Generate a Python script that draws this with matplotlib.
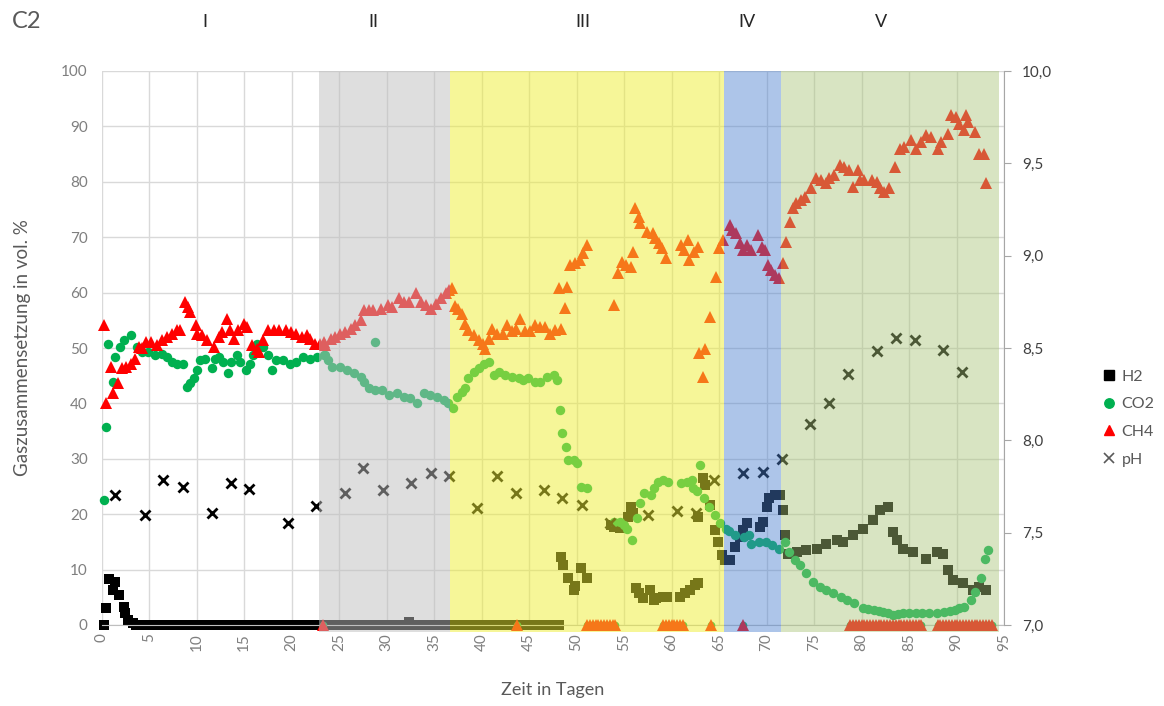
import numpy as np
import matplotlib
matplotlib.use('Agg')
import matplotlib.pyplot as plt
from matplotlib.lines import Line2D

plt.rcParams['font.family'] = ['Lato', 'DejaVu Sans']

# H2 (vol. %)
h2_days = [0.2, 0.5, 0.8, 1.2, 1.4, 1.85, 2.3, 2.45, 2.8, 3.3,
           3.6, 4.3, 5.0, 5.8, 6.5, 7.3, 8.0, 8.8, 9.5, 10.3, 11.0, 11.8, 12.5, 13.3,
           14.0, 14.8, 15.5, 16.3, 17.0, 17.8, 18.5, 19.3, 20.0, 20.8, 21.5, 22.3,
           23.0, 23.8, 24.5, 25.3, 26.0, 26.8, 27.5, 28.3, 29.0, 29.8, 30.5, 31.3,
           32.0, 32.4, 32.8, 33.5, 34.3, 35.0, 35.8, 36.5, 37.3, 38.0, 38.8, 39.5,
           40.3, 41.0, 41.8, 42.5, 43.3, 44.0, 44.8, 45.5, 46.3, 47.0, 47.8, 48.2,
           48.4, 48.6, 49.1, 49.7, 49.8, 50.5, 51.1,
           53.6, 53.9, 54.6, 55.4, 55.7, 55.9,
           56.3, 56.6, 57.0, 57.7, 58.1, 58.4, 59.1, 59.5,
           60.9, 61.4, 61.9, 62.5, 62.8,
           62.8, 63.3, 63.5, 64.0, 64.6, 64.9, 65.3, 65.6,
           66.1, 66.7, 67.2, 67.5, 67.9, 69.3, 69.6, 70.0, 70.3, 70.9, 71.4,
           71.7, 71.9, 72.3, 73.2, 74.2, 75.3, 76.3, 77.4, 78.1, 79.1, 80.2, 81.2,
           81.9, 82.8, 83.3, 83.7, 84.4, 85.4, 86.8, 87.9, 88.6, 89.1, 89.6, 90.7,
           91.7, 92.4, 93.1]
h2_vals = [0, 3.0, 8.3, 6.3, 7.8, 5.4, 3.3, 2.1, 0.9, 0.3,
           0, 0, 0, 0, 0, 0, 0, 0, 0, 0, 0, 0, 0, 0,
           0, 0, 0, 0, 0, 0, 0, 0, 0, 0, 0, 0,
           0, 0, 0, 0, 0, 0, 0, 0, 0, 0, 0, 0,
           0, 0.5, 0, 0, 0, 0, 0, 0, 0, 0, 0, 0,
           0, 0, 0, 0, 0, 0, 0, 0, 0, 0, 0, 0,
           12.3, 10.8, 8.4, 6.3, 7.0, 10.2, 8.4,
           18.0, 17.7, 17.5, 19.5, 21.3, 20.2,
           6.7, 5.8, 4.9, 6.3, 4.5, 4.9, 5.1, 5.1,
           5.1, 5.8, 6.3, 7.2, 7.6,
           19.5, 26.5, 25.3, 21.7, 17.1, 15.0, 12.6, 11.7,
           11.7, 14.1, 15.9, 17.1, 18.4, 17.7, 18.6, 21.3, 22.9, 23.5, 23.5,
           20.8, 16.2, 12.9, 13.2, 13.5, 13.8, 14.7, 15.3, 15.0, 16.2, 17.4, 19.0,
           20.8, 21.3, 16.8, 15.3, 13.8, 13.2, 12.0, 13.2, 12.9, 9.9, 8.1, 7.5,
           6.3, 6.9, 6.3]

# CO2 (vol. %)
co2_days = [0.2, 0.5, 0.7, 1.2, 1.4, 1.9, 2.4, 3.1, 3.7, 4.2, 4.9, 5.6, 6.3, 6.9,
            7.4, 7.9, 8.6, 9.0, 9.3, 9.7, 10.0, 10.4, 10.9, 11.6, 11.9, 12.4, 12.8,
            13.3, 13.6, 14.2, 14.6, 15.2, 15.6, 15.9, 16.3, 17.0, 17.5, 17.9, 18.4,
            19.1, 19.8, 20.5, 21.2, 21.9, 22.7, 23.4,
            23.5, 23.8, 24.3, 25.1, 25.8, 26.6, 27.3, 27.6, 28.1, 28.8, 28.8, 29.5,
            30.2, 31.1, 31.8, 32.5, 33.2, 33.9, 34.6, 35.3, 36.0, 36.5,
            37.0, 37.4, 37.9, 38.3, 38.6, 39.2, 39.7, 40.2, 40.8, 41.3, 41.8, 42.5,
            43.2, 43.9, 44.4, 44.9, 45.6, 46.1, 46.9, 47.6, 47.9, 48.3, 48.5, 48.9,
            49.1, 49.7, 50.0, 50.5, 51.1,
            53.9, 54.6, 55.0, 55.3, 55.8, 56.4, 56.7, 57.1, 57.8, 58.1, 58.6, 59.1,
            59.6, 61.0, 61.6, 62.1, 63.0, 62.3, 62.7, 63.4, 63.9, 64.6, 65.1, 65.7,
            66.0, 66.7, 67.6, 68.1, 68.4, 69.2, 69.9, 70.6, 71.3, 71.9, 72.4, 73.0,
            73.5, 74.2, 74.9, 75.6, 76.3, 77.0, 77.8, 78.5, 79.2, 80.2, 80.7, 81.3,
            81.8, 82.3, 82.8, 83.3, 83.8, 84.4, 85.0, 85.7, 86.4, 87.1, 87.9, 88.7,
            89.3, 89.8, 90.3, 90.8, 91.5, 91.9, 92.6, 93.0, 93.3]
co2_vals = [22.6, 35.8, 50.8, 43.9, 48.4, 50.2, 51.4, 52.3, 50.2, 49.3, 49.3, 48.7,
            49.0, 48.4, 47.5, 47.2, 47.2, 43.0, 43.6, 44.5, 46.0, 47.8, 48.1, 46.3,
            48.1, 48.4, 47.5, 45.4, 47.5, 48.7, 47.5, 46.0, 47.2, 48.7, 50.8, 50.2,
            48.7, 46.0, 47.8, 47.8, 47.2, 47.5, 48.4, 48.1, 48.4, 48.7,
            48.7, 47.8, 46.6, 46.6, 46.0, 45.4, 44.8, 43.9, 42.7, 51.1, 42.4, 42.4,
            41.5, 41.8, 41.2, 40.9, 40.0, 41.8, 41.5, 41.2, 40.6, 40.0,
            39.1, 41.2, 42.1, 42.7, 44.5, 45.7, 46.3, 47.2, 47.5, 45.1, 45.7, 45.1,
            44.8, 44.5, 44.2, 44.5, 43.9, 43.9, 44.8, 45.1, 44.2, 38.8, 34.6, 32.1,
            29.8, 29.8, 29.2, 25.0, 24.7,
            18.6, 18.6, 18.0, 17.4, 15.3, 19.3, 22.0, 23.8, 23.5, 24.7, 25.9, 26.2,
            25.9, 25.6, 25.9, 26.2, 28.9, 24.7, 24.1, 22.9, 21.3, 19.9, 18.4, 17.4,
            17.0, 16.2, 15.9, 16.2, 14.7, 15.0, 15.0, 14.4, 13.8, 15.0, 13.2, 11.7,
            10.8, 9.3, 7.8, 6.9, 6.3, 5.7, 5.1, 4.5, 3.9, 3.0, 2.8, 2.7,
            2.5, 2.4, 2.1, 1.8, 1.9, 2.1, 2.1, 2.1, 2.1, 2.1, 2.2, 2.4,
            2.5, 2.7, 3.0, 3.3, 4.5, 6.0, 8.4, 12.0, 13.5]

# CH4 (vol. %)
ch4_days = [0.2, 0.5, 1.0, 1.2, 1.7, 2.1, 2.6, 3.1, 3.5, 3.9, 4.2, 4.7, 5.2, 5.8,
            6.3, 6.9, 7.4, 7.9, 8.2, 8.8, 9.1, 9.3, 9.9, 10.0, 10.6, 11.1, 11.8,
            12.3, 12.7, 13.2, 13.5, 13.9, 14.4, 15.0, 15.3, 15.8, 16.3, 16.6, 17.0,
            17.5, 18.1, 18.7, 19.4, 19.9, 20.5, 21.1, 21.6, 21.9, 22.5, 23.4,
            23.0, 23.5, 24.1, 24.6, 25.1, 25.6, 26.2, 26.7, 27.3, 27.6, 28.1, 28.6,
            29.4, 30.1, 30.6, 31.3, 31.8, 32.4, 33.1, 33.6, 34.1, 34.7, 35.2, 35.7,
            36.3, 36.6,
            36.9, 37.2, 37.5, 37.9, 38.3, 38.6, 39.2, 39.7, 40.1, 40.4, 40.8, 41.1,
            41.6, 42.2, 42.7, 43.2, 43.6, 44.0, 44.6, 45.1, 45.6, 46.1, 46.7, 47.2,
            47.7, 48.4, 48.1, 49.0, 48.8, 49.3, 49.8, 50.4, 50.7, 51.1,
            53.9, 54.4, 54.8, 55.2, 55.7, 55.9, 56.2, 56.6, 56.7, 57.4, 58.0, 58.3,
            58.7, 59.0, 59.4, 61.0, 61.3, 61.7, 61.8, 62.4, 62.8, 62.9, 63.3, 63.5,
            64.0, 64.7, 65.0, 65.4,
            66.1, 66.4, 66.8, 67.2, 67.5, 67.9, 68.4, 69.1, 69.5, 69.8, 70.2, 70.5,
            70.9, 71.3,
            71.7, 72.1, 72.5, 72.8, 73.1, 73.6, 74.1, 74.7, 75.2, 75.7, 76.3, 76.6,
            77.1, 77.7, 78.2, 78.7, 79.1, 79.6, 79.8, 80.3, 81.1, 81.6, 81.9, 82.4,
            82.9, 83.5, 84.0, 84.5, 85.2, 85.7, 86.3, 86.8, 87.3, 88.0, 88.4, 89.1,
            89.4, 89.9, 90.3, 90.8, 91.0, 91.2, 91.9, 92.4, 92.9, 93.1]
ch4_vals = [54.2, 40.0, 46.6, 41.8, 43.6, 46.3, 46.6, 47.2, 48.1, 50.2, 50.0, 51.1,
            51.0, 50.5, 51.4, 52.0, 52.6, 53.2, 53.2, 58.3, 57.4, 56.5, 54.2, 52.6,
            52.3, 51.4, 50.2, 52.0, 52.9, 55.3, 53.2, 51.7, 53.2, 54.4, 53.8, 50.5,
            49.9, 49.3, 51.4, 53.2, 53.2, 53.2, 53.2, 52.9, 52.6, 52.0, 52.3, 51.7,
            50.8, 51.0,
            50.8, 50.5, 51.7, 52.0, 52.6, 52.9, 53.5, 54.1, 55.0, 56.9, 56.9, 56.9,
            57.1, 57.8, 57.4, 59.0, 58.3, 58.3, 59.9, 58.3, 57.8, 57.1, 58.0, 59.0,
            59.9, 60.5,
            60.8, 57.5, 57.0, 56.2, 54.4, 53.2, 52.3, 51.4, 50.8, 49.9, 51.7, 53.5,
            52.6, 52.6, 54.2, 53.0, 53.5, 55.3, 53.0, 53.0, 54.2, 53.8, 53.8, 52.6,
            53.2, 53.5, 60.8, 61.1, 57.2, 65.0, 65.3, 65.9, 67.1, 68.6,
            57.8, 63.5, 65.6, 65.0, 64.7, 67.4, 75.2, 73.7, 72.5, 71.0, 70.7, 69.8,
            68.9, 68.0, 66.2, 68.6, 67.7, 69.5, 65.9, 67.4, 68.3, 49.1, 44.8, 49.9,
            55.6, 62.9, 68.0, 69.5,
            72.2, 71.3, 70.7, 68.9, 67.7, 68.6, 67.7, 70.4, 68.3, 67.7, 65.0, 64.1,
            63.2, 62.6,
            65.3, 69.2, 72.8, 75.2, 76.1, 76.7, 77.3, 78.8, 80.6, 80.3, 79.7, 80.6,
            81.2, 83.0, 82.7, 82.1, 79.1, 82.1, 80.3, 80.3, 80.3, 80.0, 78.8, 78.2,
            78.8, 82.7, 86.0, 86.3, 87.5, 86.0, 87.2, 88.4, 88.1, 86.0, 87.2, 88.7,
            92.0, 91.7, 90.5, 89.3, 92.0, 90.8, 89.0, 85.1, 85.1, 79.7]

# days with CH4 / CO2 recorded as 0
zero_days = [23.3, 43.7,
             51.1, 51.4, 51.7, 52.0, 52.3, 52.6, 52.9, 53.2, 53.5, 53.8, 54.0,
             59.1, 59.4, 59.7, 60.0, 60.3, 60.6, 60.9, 61.2,
             64.2, 67.5,
             78.8, 79.1, 79.4, 79.7, 80.0, 80.3, 80.6, 80.9, 81.2, 81.5, 81.8,
             82.1, 82.4, 82.7, 83.0, 83.3, 83.6, 83.9, 84.2, 84.5, 84.8, 85.1,
             85.4, 85.7, 86.0, 86.3,
             88.0, 88.3, 88.6, 88.9, 89.2, 89.5, 89.8, 90.1, 90.4, 90.7, 91.0,
             91.3, 91.6, 91.9, 92.2, 92.5, 92.8, 93.1, 93.4, 93.7]

# pH (right axis)
ph_days = [1.4, 4.6, 6.5, 8.6, 11.6, 13.6, 15.5, 19.6, 22.6, 25.6, 27.5, 29.6,
           32.6, 34.7, 36.6, 39.5, 41.6, 43.6, 46.6, 48.5, 50.6, 53.5, 57.5, 60.6,
           62.6, 64.5, 67.5, 69.6, 71.6, 74.6, 76.6, 78.6, 81.6, 83.6, 85.6, 88.6,
           90.6]
ph_vals = [7.704, 7.596, 7.785, 7.749, 7.608, 7.771, 7.736, 7.551, 7.644, 7.716,
           7.849, 7.731, 7.771, 7.825, 7.807, 7.632, 7.809, 7.716, 7.731, 7.686,
           7.65, 7.554, 7.596, 7.617, 7.608, 7.785, 7.821, 7.83, 7.897, 8.087, 8.2,
           8.359, 8.485, 8.553, 8.543, 8.489, 8.372]

# phases
phase_names = ['I', 'II', 'III', 'IV', 'V']
phase_bounds = [(0, 22.9), (22.9, 36.7), (36.7, 65.5), (65.5, 71.5), (71.5, 94.5)]
phase_colors = [None, '#BFBFBF', '#EEEE33', '#4A80D0', '#A9C478']
phase_alpha = [0, 0.5, 0.5, 0.45, 0.45]
phase_label_x = [10.9, 28.6, 50.7, 67.9, 82.1]

W, H = 1164, 706
fig = plt.figure(figsize=(W / 100, H / 100), dpi=100)
L, R, T, B = 101.7, 1004, 71, 625
ax = fig.add_axes([L / W, (H - B) / H, (R - L) / W, (B - T) / H])
ax2 = ax.twinx()

grid_c = '#D9D9D9'
ax.set_xlim(0, 95)
ax.set_ylim(0, 100)
ax.set_xticks(range(0, 96, 5))
ax.set_yticks(range(0, 101, 10))
ax.grid(True, color=grid_c, linewidth=1)
ax.set_axisbelow(True)
for s in ['left', 'top', 'right']:
    ax.spines[s].set_visible(False)
ax.spines['bottom'].set_color('#BFBFBF')
ax.tick_params(axis='both', length=0, labelsize=11, labelcolor='#7F7F7F')
ax.tick_params(axis='x', rotation=90, pad=6)
ax.tick_params(axis='y', pad=10)

ms = dict(linestyle='none', markeredgewidth=0, clip_on=False)
ax.plot(zero_days, [0] * len(zero_days), marker='o', markersize=5.5, color='#00B050', zorder=3, **ms)
ax.plot(h2_days, h2_vals, marker='s', markersize=6.5, color='black', zorder=2, **ms)
ax.plot(co2_days, co2_vals, marker='o', markersize=6.8, color='#00B050', zorder=3, **ms)
ax.plot(ch4_days, ch4_vals, marker='^', markersize=8, color='#FF0000', zorder=4, **ms)
ax.plot(zero_days, [0] * len(zero_days), marker='^', markersize=8, color='#FF0000', zorder=4, **ms)

ax2.plot(ph_days, ph_vals, marker='x', markersize=7, markeredgewidth=2,
         color='black', linestyle='none', zorder=3)
ax2.set_ylim(7, 10)
ax2.set_yticks(np.arange(7, 10.01, 0.5))
ax2.set_yticklabels(['{:.1f}'.format(v).replace('.', ',') for v in np.arange(7, 10.01, 0.5)])
for s in ['left', 'top', 'bottom']:
    ax2.spines[s].set_visible(False)
ax2.spines['right'].set_color('#A6A6A6')
ax2.tick_params(axis='y', length=5, color='#A6A6A6', labelsize=11,
                labelcolor='#404040', pad=8)

# translucent phase overlays drawn over the markers (slightly below the axis too)
for (x0, x1), c, a in zip(phase_bounds, phase_colors, phase_alpha):
    if c is not None:
        ax2.axvspan(x0, x1, ymin=-0.013, ymax=1, color=c, alpha=a,
                    linewidth=0, zorder=10, clip_on=False)

ax.set_xlabel('Zeit in Tagen', fontsize=13, color='#595959', labelpad=22)
ax.set_ylabel('Gaszusammensetzung in vol. %', fontsize=13.5, color='#595959', labelpad=22)

fig.text(27 / W, 1 - 22 / H, 'C2', fontsize=17, color='#595959', va='center', ha='center')
for name, xd in zip(phase_names, phase_label_x):
    fig.text((L + xd * (R - L) / 95) / W, 1 - 22 / H, name, fontsize=13,
             color='#262626', ha='center', va='center')

handles = [
    Line2D([], [], marker='s', color='black', markersize=6.5, linestyle='none'),
    Line2D([], [], marker='o', color='#00B050', markersize=6.8, linestyle='none'),
    Line2D([], [], marker='^', color='#FF0000', markersize=7.5, linestyle='none'),
    Line2D([], [], marker='x', color='#595959', markersize=7, markeredgewidth=1.2, linestyle='none'),
]
leg = fig.legend(handles, ['H2', 'CO2', 'CH4', 'pH'], loc='upper left',
                 bbox_to_anchor=(1085 / W, 1 - 355 / H), frameon=False,
                 fontsize=11.5, labelspacing=0.85, handletextpad=0.2,
                 handlelength=1.2, labelcolor='#595959')

fig.savefig('out.png', dpi=100)
